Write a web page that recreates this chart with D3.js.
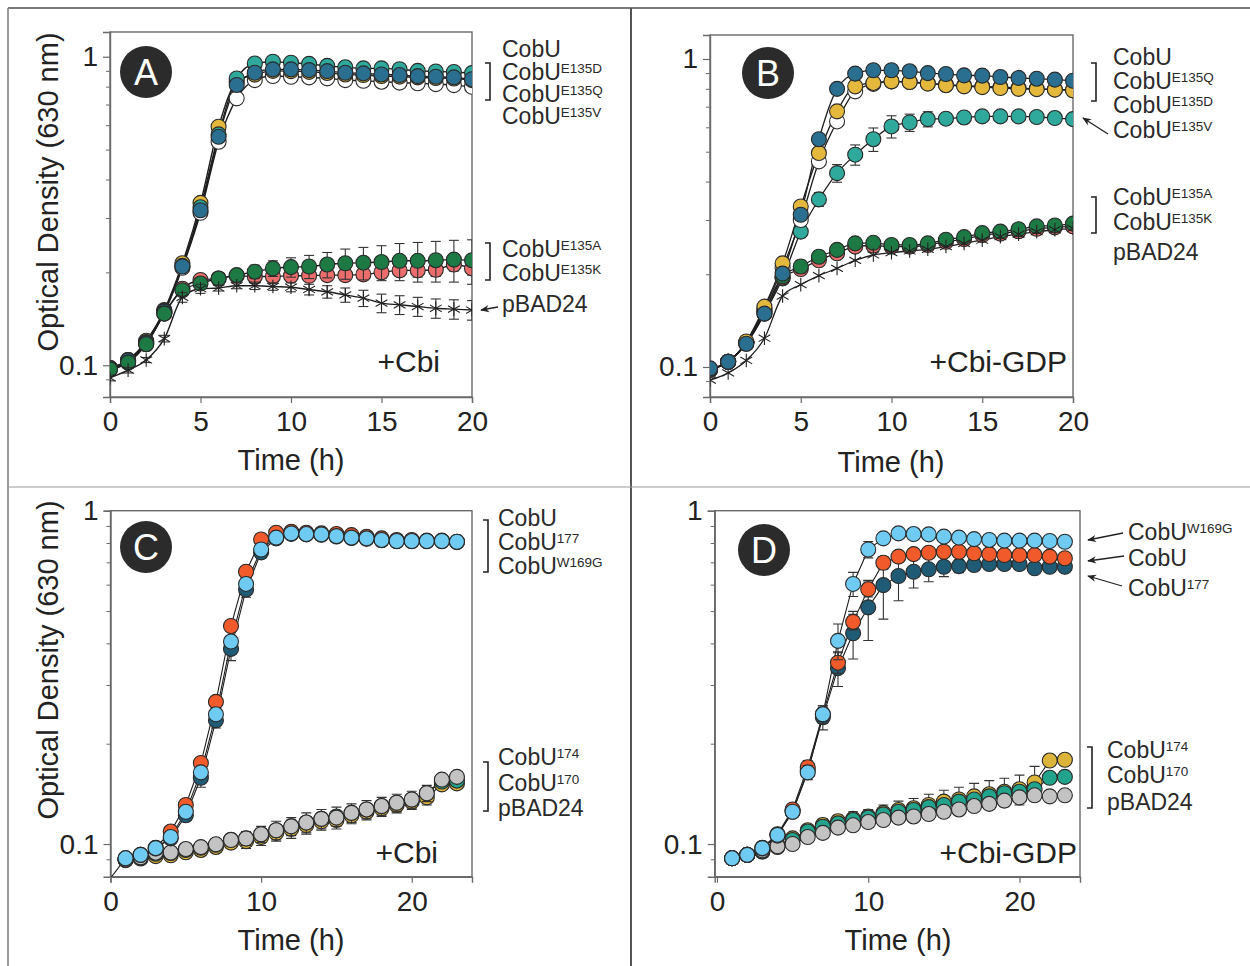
<!DOCTYPE html>
<html>
<head>
<meta charset="utf-8">
<script src="https://cdn.jsdelivr.net/npm/d3@7"></script>
<style>
  body { margin: 0; background: #fff; }
  svg { display: block; }
  text { font-family: Arial, "Liberation Sans", sans-serif; fill: #222; }
</style>
</head>
<body>
<svg id="fig" width="1250" height="966"></svg>
<script>
// ---------- time points (h) ----------
const hoursAB = [0,1,2,3,4,5,6,7,8,9,10,11,12,13,14,15,16,17,18,19,20];
const hoursCD = [0,1,2,3,4,5,6,7,8,9,10,11,12,13,14,15,16,17,18,19,20,21,22,23];

// ---------- A: +Cbi (OD630) ----------
const aCobU   = [0.097,0.103,0.118,0.148,0.207,0.312,0.530,0.733,0.840,0.866,0.861,0.857,0.851,0.840,0.836,0.830,0.824,0.820,0.815,0.809,0.799];
const aE135D  = [0.098,0.104,0.120,0.151,0.214,0.336,0.593,0.830,0.875,0.900,0.898,0.893,0.886,0.876,0.872,0.866,0.862,0.857,0.853,0.850,0.840];
const aE135Q  = [0.0977,0.1037,0.1183,0.149,0.209,0.318,0.550,0.810,0.887,0.910,0.910,0.905,0.898,0.887,0.883,0.876,0.872,0.865,0.861,0.857,0.845];
const aE135V  = [0.098,0.104,0.119,0.150,0.210,0.325,0.560,0.850,0.951,0.963,0.956,0.948,0.934,0.924,0.917,0.917,0.911,0.900,0.896,0.892,0.885];
const aE135A  = [0.097,0.102,0.117,0.147,0.175,0.184,0.191,0.196,0.201,0.206,0.208,0.209,0.212,0.214,0.215,0.216,0.218,0.218,0.219,0.220,0.219];
const aE135Aerr = [0.002,0.002,0.002,0.003,0.005,0.006,0.006,0.008,0.010,0.012,0.015,0.018,0.020,0.024,0.026,0.028,0.030,0.032,0.033,0.034,0.036];
const aE135K  = [0.097,0.102,0.117,0.147,0.177,0.189,0.191,0.195,0.194,0.194,0.195,0.195,0.196,0.196,0.197,0.200,0.203,0.203,0.204,0.212,0.206];
const aE135Kerr = [0.002,0.002,0.002,0.003,0.004,0.004,0.004,0.005,0.006,0.006,0.007,0.007,0.008,0.008,0.008,0.009,0.009,0.010,0.010,0.010,0.010];
const aPBAD   = [0.091,0.0964,0.104,0.122,0.166,0.177,0.178,0.181,0.181,0.180,0.179,0.176,0.173,0.169,0.165,0.159,0.157,0.155,0.153,0.152,0.151];
const aPBADerr = [0.002,0.002,0.002,0.003,0.006,0.006,0.004,0.004,0.005,0.005,0.006,0.007,0.008,0.009,0.010,0.011,0.011,0.011,0.011,0.011,0.011];

// ---------- B: +Cbi-GDP (OD630) ----------
const bCobU   = [0.098,0.104,0.120,0.155,0.210,0.300,0.465,0.627,0.785,0.830,0.846,0.842,0.835,0.826,0.820,0.815,0.810,0.805,0.800,0.797,0.793];
const bE135Q  = [0.099,0.104,0.119,0.149,0.201,0.312,0.549,0.800,0.896,0.919,0.919,0.912,0.900,0.894,0.885,0.883,0.874,0.868,0.863,0.857,0.850];
const bE135D  = [0.0985,0.104,0.121,0.157,0.217,0.332,0.495,0.676,0.815,0.836,0.846,0.842,0.832,0.822,0.815,0.810,0.805,0.800,0.798,0.795,0.791];
const bE135V  = [0.098,0.104,0.119,0.149,0.194,0.275,0.350,0.426,0.489,0.549,0.604,0.622,0.638,0.640,0.646,0.651,0.651,0.651,0.648,0.643,0.638];
const bE135Verr = [0.002,0.002,0.003,0.004,0.008,0.012,0.018,0.028,0.037,0.048,0.050,0.040,0.036,0.020,0.020,0.008,0.006,0.006,0.006,0.006,0.006];
const bE135A  = [0.098,0.104,0.120,0.152,0.197,0.212,0.228,0.240,0.252,0.253,0.249,0.249,0.252,0.259,0.264,0.272,0.275,0.280,0.286,0.288,0.292];
const bE135Aerr = [0.002,0.002,0.003,0.004,0.008,0.010,0.010,0.010,0.010,0.008,0.005,0.004,0.004,0.004,0.004,0.004,0.004,0.004,0.004,0.004,0.004];
const bE135K  = [0.098,0.104,0.120,0.152,0.195,0.208,0.222,0.234,0.246,0.248,0.246,0.246,0.249,0.255,0.260,0.268,0.271,0.276,0.281,0.284,0.286];
const bPBAD   = [0.0906,0.0957,0.105,0.124,0.170,0.185,0.198,0.209,0.222,0.231,0.235,0.238,0.241,0.246,0.252,0.258,0.265,0.270,0.275,0.279,0.282];

// ---------- C: +Cbi (OD630), sampled from 1 h ----------
const cCobU   = [null,0.0906,0.0928,0.0975,0.109,0.131,0.175,0.267,0.451,0.656,0.820,0.859,0.865,0.859,0.855,0.851,0.845,0.835,0.826,0.817,0.817,0.813,0.813,0.807];
const c177    = [0.079,0.0906,0.0928,0.097,0.104,0.122,0.158,0.235,0.385,0.580,0.750,0.826,0.852,0.849,0.847,0.837,0.828,0.824,0.815,0.810,0.810,0.810,0.810,0.805];
const c177err = [0,0.001,0.001,0.002,0.003,0.005,0.010,0.012,0.030,0.030,0.030,0.010,0.006,0.005,0.005,0.005,0.005,0.005,0.005,0.005,0.005,0.005,0.005,0.005];
const cW169G  = [null,0.0906,0.0928,0.0972,0.105,0.125,0.164,0.245,0.405,0.603,0.765,0.830,0.855,0.851,0.849,0.839,0.830,0.826,0.817,0.811,0.811,0.811,0.811,0.807];
const c174    = [null,0.0895,0.0905,0.0920,0.0925,0.0945,0.0960,0.0980,0.101,0.102,0.105,0.108,0.111,0.114,0.117,0.118,0.122,0.125,0.128,0.131,0.134,0.138,0.151,0.152];
const c174err = [0,0.001,0.001,0.001,0.001,0.002,0.002,0.003,0.004,0.005,0.006,0.006,0.007,0.007,0.007,0.007,0.007,0.007,0.007,0.007,0.007,0.007,0.003,0.003];
const c170    = [null,0.0897,0.0910,0.0935,0.0940,0.0960,0.0975,0.0995,0.103,0.104,0.107,0.110,0.113,0.116,0.119,0.121,0.124,0.127,0.130,0.133,0.136,0.142,0.154,0.155];
const c170err = [0,0.001,0.001,0.001,0.001,0.002,0.002,0.003,0.004,0.005,0.006,0.007,0.007,0.008,0.008,0.008,0.008,0.008,0.008,0.008,0.008,0.008,0.003,0.003];
const cPBAD   = [null,0.0898,0.0912,0.0942,0.0943,0.0966,0.0979,0.0998,0.1028,0.1039,0.107,0.110,0.113,0.116,0.119,0.120,0.124,0.127,0.130,0.133,0.136,0.142,0.156,0.159];

// ---------- D: +Cbi-GDP (OD630), sampled from 1 h ----------
const dCobU   = [null,0.0906,0.0928,0.0975,0.107,0.127,0.170,0.245,0.350,0.464,0.581,0.698,0.728,0.741,0.748,0.753,0.753,0.745,0.741,0.736,0.736,0.736,0.728,0.720];
const dCobUerr = [0,0.001,0.001,0.002,0.003,0.004,0.008,0.015,0.025,0.025,0.030,0.030,0.025,0.020,0.012,0.010,0.010,0.010,0.010,0.010,0.010,0.010,0.010,0.010];
const d177    = [null,0.0906,0.0928,0.097,0.106,0.125,0.166,0.240,0.337,0.429,0.513,0.598,0.637,0.656,0.667,0.679,0.682,0.687,0.692,0.692,0.692,0.672,0.679,0.679];
const d177err = [0,0.001,0.001,0.002,0.003,0.004,0.008,0.020,0.040,0.070,0.105,0.125,0.100,0.070,0.055,0.045,0.030,0.025,0.010,0.008,0.008,0.008,0.008,0.008];
const dW169G  = [null,0.0906,0.0928,0.0972,0.1065,0.125,0.164,0.245,0.407,0.603,0.765,0.826,0.855,0.851,0.849,0.836,0.830,0.822,0.817,0.813,0.813,0.813,0.811,0.807];
const dW169Gerr = [0,0.001,0.001,0.002,0.003,0.004,0.008,0.012,0.050,0.050,0.043,0.010,0.006,0.005,0.005,0.005,0.005,0.005,0.005,0.005,0.005,0.005,0.005,0.005];
const d174    = [null,0.0906,0.0928,0.095,0.099,0.104,0.110,0.114,0.117,0.119,0.121,0.124,0.1265,0.128,0.131,0.134,0.136,0.139,0.141,0.1435,0.146,0.153,0.178,0.179];
const d174err = [0,0.001,0.001,0.001,0.002,0.003,0.004,0.005,0.005,0.006,0.006,0.007,0.008,0.009,0.010,0.011,0.012,0.013,0.014,0.014,0.015,0.018,0.004,0.004];
const d170    = [null,0.0906,0.0928,0.095,0.098,0.1028,0.109,0.1127,0.1153,0.118,0.120,0.1227,0.125,0.1265,0.129,0.131,0.134,0.136,0.139,0.142,0.1435,0.146,0.158,0.159];
const dPBAD   = [null,0.0906,0.0928,0.0957,0.0985,0.100,0.105,0.108,0.112,0.1138,0.1164,0.118,0.120,0.121,0.123,0.125,0.127,0.130,0.132,0.135,0.138,0.140,0.139,0.140];
const dPBADerr = [0,0.001,0.001,0.001,0.002,0.002,0.002,0.002,0.002,0.002,0.002,0.002,0.002,0.002,0.002,0.002,0.002,0.002,0.002,0.002,0.002,0.002,0.005,0.005];

// ---------- axis ticks ----------
const xTicksAB = [0,5,10,15,20];
const xTicksCD = [0,10,20];
const yMajor = [0.1, 1];
const yMinor = [0.09,0.2,0.3,0.4,0.5,0.6,0.7,0.8,0.9];

// ---------- palette ----------
const C = {
  open: "#ffffff", yellow: "#e3b83c", blue: "#2b6f90", teal: "#2ea99b",
  green: "#1d7a44", salmon: "#ec6e6c",
  orange: "#f15a2b", navy: "#1f5b74", sky: "#6fcbf1",
  gold: "#dcb43a", jade: "#22a48c", grey: "#c3c3c3"
};

const svg = d3.select("#fig");

// figure frame and quadrant dividers
svg.append("line").attr("x1", 8).attr("x2", 1250).attr("y1", 8).attr("y2", 8).attr("stroke", "#7a7a7a").attr("stroke-width", 2);
svg.append("line").attr("x1", 8).attr("x2", 8).attr("y1", 8).attr("y2", 966).attr("stroke", "#7a7a7a").attr("stroke-width", 1.5);
svg.append("line").attr("x1", 631).attr("x2", 631).attr("y1", 8).attr("y2", 966).attr("stroke", "#555").attr("stroke-width", 2);
svg.append("line").attr("x1", 8).attr("x2", 1250).attr("y1", 487).attr("y2", 487).attr("stroke", "#9a9a9a").attr("stroke-width", 1.2);

const defs = svg.append("defs");
defs.append("marker").attr("id", "arrowhead").attr("viewBox", "0 0 10 10")
  .attr("refX", 9).attr("refY", 5).attr("markerWidth", 9).attr("markerHeight", 9)
  .attr("markerUnits", "userSpaceOnUse").attr("orient", "auto")
  .append("path").attr("d", "M0,1 L10,5 L0,9 L3,5 Z").attr("fill", "#222");

function drawPanel(p) {
  const x = d3.scaleLinear().domain(p.xDomain).range([p.left, p.right]);
  const y = d3.scaleLog().domain(p.yDomain).range([p.bottom, p.top]);
  const g = svg.append("g");

  defs.append("clipPath").attr("id", "clip-" + p.id)
    .append("rect").attr("x", p.left).attr("y", p.top)
    .attr("width", p.right - p.left).attr("height", p.bottom - p.top);

  // plot frame
  g.append("rect").attr("x", p.left).attr("y", p.top)
    .attr("width", p.right - p.left).attr("height", p.bottom - p.top)
    .attr("fill", "none").attr("stroke", "#6a6a6a").attr("stroke-width", 1.4);

  // x axis
  const xAxis = g.append("g").attr("transform", `translate(0,${p.bottom})`)
    .call(d3.axisBottom(x).tickValues(p.xTicks).tickSize(6).tickPadding(8).tickFormat(d3.format("d")));
  xAxis.select(".domain").attr("stroke", "#6a6a6a").attr("stroke-width", 1.4);
  xAxis.selectAll(".tick line").attr("stroke", "#6a6a6a").attr("stroke-width", 1.2);
  xAxis.selectAll(".tick text").attr("font-size", 28).attr("font-family", "Arial, 'Liberation Sans', sans-serif").attr("fill", "#222");

  // y axis (log): labelled decades and unlabelled minor ticks
  const yAxis = g.append("g").attr("transform", `translate(${p.left},0)`)
    .call(d3.axisLeft(y).tickValues(yMajor).tickSize(7).tickPadding(5).tickFormat(d => d === 1 ? "1" : "0.1"));
  yAxis.select(".domain").attr("stroke", "#6a6a6a").attr("stroke-width", 1.4);
  yAxis.selectAll(".tick line").attr("stroke", "#6a6a6a").attr("stroke-width", 1.2);
  yAxis.selectAll(".tick text").attr("font-size", 28).attr("font-family", "Arial, 'Liberation Sans', sans-serif").attr("fill", "#222");
  const yMinorAxis = g.append("g").attr("transform", `translate(${p.left},0)`)
    .call(d3.axisLeft(y).tickValues(yMinor.filter(v => v >= p.yDomain[0] && v <= p.yDomain[1])).tickSize(4).tickFormat(""));
  yMinorAxis.select(".domain").remove();
  yMinorAxis.selectAll(".tick line").attr("stroke", "#6a6a6a").attr("stroke-width", 1);

  // titles
  g.append("text").attr("x", p.xTitle[0]).attr("y", p.xTitle[1]).attr("text-anchor", "middle")
    .attr("font-size", 29).text("Time (h)");
  if (p.yTitle) {
    g.append("text").attr("transform", `translate(${p.yTitle[0]},${p.yTitle[1]}) rotate(-90)`)
      .attr("text-anchor", "middle").attr("dominant-baseline", "central")
      .attr("font-size", 29).text("Optical Density (630 nm)");
  }

  const plot = g.append("g").attr("clip-path", `url(#clip-${p.id})`);
  const pointsOf = s => p.times.map((t, i) => ({ t, v: s.values[i], e: s.err ? s.err[i] : 0 }))
    .filter(d => d.v != null);

  // connecting lines
  const line = d3.line().x(d => x(d.t)).y(d => y(d.v)).curve(p.curve);
  p.series.forEach(s => {
    plot.append("path").attr("d", line(pointsOf(s))).attr("fill", "none")
      .attr("stroke", "#1e1e1e").attr("stroke-width", p.lineWidth);
  });

  // error bars and markers, series by series
  p.series.forEach(s => {
    const pts = pointsOf(s).filter(d => d.v >= p.yDomain[0] && d.v <= p.yDomain[1]);
    const eb = plot.append("g").attr("stroke", "#333").attr("stroke-width", 1.1).attr("fill", "none");
    pts.filter(d => d.e > 0.0015).forEach(d => {
      const cx = x(d.t), y1 = y(d.v + d.e), y2 = y(Math.max(d.v - d.e, 1e-3));
      eb.append("line").attr("x1", cx).attr("x2", cx).attr("y1", y1).attr("y2", y2);
      eb.append("line").attr("x1", cx - 5).attr("x2", cx + 5).attr("y1", y1).attr("y2", y1);
      eb.append("line").attr("x1", cx - 5).attr("x2", cx + 5).attr("y1", y2).attr("y2", y2);
    });
    if (s.shape === "asterisk") {
      plot.append("g").selectAll("path").data(pts).join("path")
        .attr("transform", d => `translate(${x(d.t)},${y(d.v)})`)
        .attr("d", d3.symbol(d3.symbolAsterisk, 130)())
        .attr("fill", "none").attr("stroke", "#222").attr("stroke-width", 1.1);
    } else {
      plot.append("g").selectAll("circle").data(pts).join("circle")
        .attr("cx", d => x(d.t)).attr("cy", d => y(d.v)).attr("r", 7.5)
        .attr("fill", s.fill).attr("stroke", "#2a2a2a").attr("stroke-width", 1.1);
    }
  });

  // panel letter badge
  g.append("circle").attr("cx", p.badge[0]).attr("cy", p.badge[1]).attr("r", 26).attr("fill", "#2b2b2b");
  g.append("text").attr("x", p.badge[0]).attr("y", p.badge[1]).attr("text-anchor", "middle")
    .attr("dominant-baseline", "central").attr("font-size", 36).style("fill", "#fff").text(p.id);

  // condition
  g.append("text").attr("x", p.cond[0]).attr("y", p.cond[1]).attr("text-anchor", "end")
    .attr("font-size", 30).text(p.condText);

  // legend
  p.legend.forEach(l => {
    const t = g.append("text").attr("x", l[0]).attr("y", l[1]).attr("font-size", 23).style("fill", "#2a2a2a").text(l[2]);
    if (l[3]) t.append("tspan").attr("dy", -7).attr("font-size", 13.5).text(l[3]);
  });
  p.brackets.forEach(b => {
    g.append("path").attr("d", `M${b[0] - 5},${b[1]} H${b[0]} V${b[2]} H${b[0] - 5}`)
      .attr("fill", "none").attr("stroke", "#222").attr("stroke-width", 1.6);
  });
  p.arrows.forEach(a => {
    g.append("line").attr("x1", a[0]).attr("y1", a[1]).attr("x2", a[2]).attr("y2", a[3])
      .attr("stroke", "#222").attr("stroke-width", 1.3).attr("marker-end", "url(#arrowhead)");
  });
}

drawPanel({
  id: "A", left: 110, right: 472, top: 32, bottom: 397,
  xDomain: [0, 20], yDomain: [0.0789, 1.2026], xTicks: xTicksAB, times: hoursAB,
  curve: d3.curveMonotoneX, lineWidth: 1.4,
  xTitle: [291, 470], yTitle: [48, 192], badge: [146, 72], cond: [440, 372], condText: "+Cbi",
  series: [
    { values: aCobU, fill: C.open },
    { values: aE135D, fill: C.yellow },
    { values: aE135V, fill: C.teal },
    { values: aE135Q, fill: C.blue },
    { values: aE135K, err: aE135Kerr, fill: C.salmon },
    { values: aE135A, err: aE135Aerr, fill: C.green },
    { values: aPBAD, err: aPBADerr, shape: "asterisk" }
  ],
  legend: [[502, 57, "CobU"], [502, 80, "CobU", "E135D"], [502, 102, "CobU", "E135Q"], [502, 124, "CobU", "E135V"],
           [502, 257, "CobU", "E135A"], [502, 281, "CobU", "E135K"], [502, 312, "pBAD24"]],
  brackets: [[490, 63, 100], [490, 243, 280]],
  arrows: [[498, 307, 481, 310]]
});

drawPanel({
  id: "B", left: 710, right: 1073, top: 35, bottom: 397,
  xDomain: [0, 20], yDomain: [0.0799, 1.1964], xTicks: xTicksAB, times: hoursAB,
  curve: d3.curveMonotoneX, lineWidth: 1.3,
  xTitle: [891, 472], yTitle: null, badge: [768, 73], cond: [1067, 372], condText: "+Cbi-GDP",
  series: [
    { values: bE135V, err: bE135Verr, fill: C.teal },
    { values: bE135K, fill: C.salmon },
    { values: bE135A, err: bE135Aerr, fill: C.green },
    { values: bPBAD, shape: "asterisk" },
    { values: bCobU, fill: C.open },
    { values: bE135D, fill: C.yellow },
    { values: bE135Q, fill: C.blue }
  ],
  legend: [[1113, 65, "CobU"], [1113, 89, "CobU", "E135Q"], [1113, 113, "CobU", "E135D"], [1113, 138, "CobU", "E135V"],
           [1113, 205, "CobU", "E135A"], [1113, 230, "CobU", "E135K"], [1113, 260, "pBAD24"]],
  brackets: [[1096, 63, 101], [1096, 197, 233]],
  arrows: [[1108, 134, 1083, 118]]
});

drawPanel({
  id: "C", left: 110.5, right: 472, top: 510.7, bottom: 876.7,
  xDomain: [0, 24], yDomain: [0.0798, 1.0], xTicks: xTicksCD, times: hoursCD,
  curve: d3.curveLinear, lineWidth: 1.1,
  xTitle: [291, 950], yTitle: [48, 660], badge: [146, 547], cond: [438, 863], condText: "+Cbi",
  series: [
    { values: c174, err: c174err, fill: C.gold },
    { values: c170, err: c170err, fill: C.jade },
    { values: cPBAD, fill: C.grey },
    { values: c177, err: c177err, fill: C.navy },
    { values: cCobU, fill: C.orange },
    { values: cW169G, fill: C.sky }
  ],
  legend: [[498, 526, "CobU"], [498, 550, "CobU", "177"], [498, 574, "CobU", "W169G"],
           [498, 765, "CobU", "174"], [498, 791, "CobU", "170"], [498, 816, "pBAD24"]],
  brackets: [[488, 520, 572], [488, 762, 811]],
  arrows: []
});

drawPanel({
  id: "D", left: 714.7, right: 1080, top: 510.7, bottom: 876.7,
  xDomain: [-0.15, 24], yDomain: [0.0798, 1.0], xTicks: xTicksCD, times: hoursCD,
  curve: d3.curveLinear, lineWidth: 1.1,
  xTitle: [898, 950], yTitle: null, badge: [764, 550], cond: [1077, 863], condText: "+Cbi-GDP",
  series: [
    { values: d174, err: d174err, fill: C.gold },
    { values: d170, fill: C.jade },
    { values: dPBAD, err: dPBADerr, fill: C.grey },
    { values: d177, err: d177err, fill: C.navy },
    { values: dCobU, err: dCobUerr, fill: C.orange },
    { values: dW169G, err: dW169Gerr, fill: C.sky }
  ],
  legend: [[1128, 540, "CobU", "W169G"], [1128, 566, "CobU"], [1128, 596, "CobU", "177"],
           [1107, 758, "CobU", "174"], [1107, 783, "CobU", "170"], [1107, 810, "pBAD24"]],
  brackets: [[1092, 747, 808]],
  arrows: [[1123, 533, 1088, 540], [1124, 556, 1088, 561], [1122, 586, 1088, 576]]
});
</script>
</body>
</html>
